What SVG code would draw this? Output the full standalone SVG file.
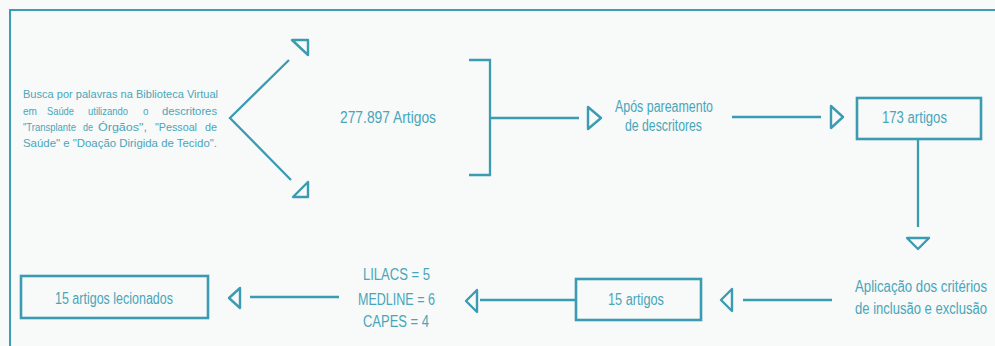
<svg xmlns="http://www.w3.org/2000/svg" width="995" height="346" viewBox="0 0 995 346">
<style>
.bg{fill:#f8f9f9}
.frame{fill:none;stroke:#3d9db2;stroke-width:2}
.ln{fill:none;stroke:#3b9bb0;stroke-width:2.3}
.box{fill:none;stroke:#3b9bb0;stroke-width:2.6}
.ah{fill:none;stroke:#3b9bb0;stroke-width:2.4;stroke-linejoin:round}
.t{font-family:"Liberation Sans",Arial,sans-serif;fill:#48a6ba}
.s{font-size:11px}
.m{font-size:16px}
</style>
<rect class="bg" x="0" y="0" width="995" height="346"/>
<rect class="frame" x="10" y="10" width="1010" height="400"/>

<g id="node-busca">
<text class="t s" x="23" y="98" textLength="195" lengthAdjust="spacingAndGlyphs">Busca por palavras na Biblioteca Virtual</text>
<text class="t s" x="23" y="114.5" textLength="14" lengthAdjust="spacingAndGlyphs">em</text>
<text class="t s" x="47" y="114.5" textLength="27" lengthAdjust="spacingAndGlyphs">Saúde</text>
<text class="t s" x="88" y="114.5" textLength="40" lengthAdjust="spacingAndGlyphs">utilizando</text>
<text class="t s" x="143" y="114.5" textLength="5.5" lengthAdjust="spacingAndGlyphs">o</text>
<text class="t s" x="162" y="114.5" textLength="55" lengthAdjust="spacingAndGlyphs">descritores</text>
<text class="t s" x="23" y="131" textLength="53" lengthAdjust="spacingAndGlyphs">"Transplante</text>
<text class="t s" x="83" y="131" textLength="10" lengthAdjust="spacingAndGlyphs">de</text>
<text class="t s" x="98" y="131" textLength="49" lengthAdjust="spacingAndGlyphs">Órgãos",</text>
<text class="t s" x="155" y="131" textLength="42" lengthAdjust="spacingAndGlyphs">"Pessoal</text>
<text class="t s" x="205" y="131" textLength="12" lengthAdjust="spacingAndGlyphs">de</text>
<text class="t s" x="23" y="147" textLength="194" lengthAdjust="spacingAndGlyphs">Saúde" e "Doação Dirigida de Tecido".</text>
</g>

<g id="node-artigos277">
<text class="t m" x="340" y="123" textLength="96" lengthAdjust="spacingAndGlyphs">277.897 Artigos</text>
</g>

<g id="node-pareamento">
<text class="t m" x="615" y="112" textLength="98" lengthAdjust="spacingAndGlyphs">Após pareamento</text>
<text class="t m" x="625" y="131" textLength="77" lengthAdjust="spacingAndGlyphs">de descritores</text>
</g>

<g id="node-173">
<rect class="box" x="857" y="98" width="124" height="41"/>
<text class="t m" x="882" y="123" textLength="65" lengthAdjust="spacingAndGlyphs">173 artigos</text>
</g>

<g id="node-criterios">
<text class="t m" x="855" y="292" textLength="132" lengthAdjust="spacingAndGlyphs">Aplicação dos critérios</text>
<text class="t m" x="855" y="314" textLength="132" lengthAdjust="spacingAndGlyphs">de inclusão e exclusão</text>
</g>

<g id="node-15">
<rect class="box" x="576" y="279" width="125" height="41"/>
<text class="t m" x="608" y="305" textLength="56" lengthAdjust="spacingAndGlyphs">15 artigos</text>
</g>

<g id="node-bases">
<text class="t m" x="363" y="280" textLength="67" lengthAdjust="spacingAndGlyphs">LILACS = 5</text>
<text class="t m" x="358" y="305" textLength="77" lengthAdjust="spacingAndGlyphs">MEDLINE = 6</text>
<text class="t m" x="363" y="327" textLength="66" lengthAdjust="spacingAndGlyphs">CAPES = 4</text>
</g>

<g id="node-selecionados">
<rect class="box" x="21" y="276" width="187" height="42"/>
<text class="t m" x="55" y="304" textLength="118" lengthAdjust="spacingAndGlyphs">15 artigos lecionados</text>
</g>

<g id="connectors">
<polyline class="ln" points="289,60 230,118 291,180"/>
<polygon class="ah" points="292,40 308,40 308,55"/>
<polygon class="ah" points="293,197 308,197 308,182"/>
<polyline class="ln" points="469,60 490,60 490,175 469,175"/>
<line class="ln" x1="490" y1="118" x2="579" y2="118"/>
<polygon class="ah" points="588,107 601,118 588,129"/>
<line class="ln" x1="732" y1="117" x2="821" y2="117"/>
<polygon class="ah" points="831,106 843,117 831,128"/>
<line class="ln" x1="918" y1="139" x2="918" y2="227"/>
<polygon class="ah" points="907,238 929,238 918,249"/>
<line class="ln" x1="743" y1="300" x2="832" y2="300"/>
<polygon class="ah" points="732,289 721,300 732,311"/>
<line class="ln" x1="480" y1="300" x2="576" y2="300"/>
<polygon class="ah" points="477,290 466,301 477,312"/>
<line class="ln" x1="250" y1="297" x2="339" y2="297"/>
<polygon class="ah" points="240,288 229,298 240,308"/>
</g>
</svg>
